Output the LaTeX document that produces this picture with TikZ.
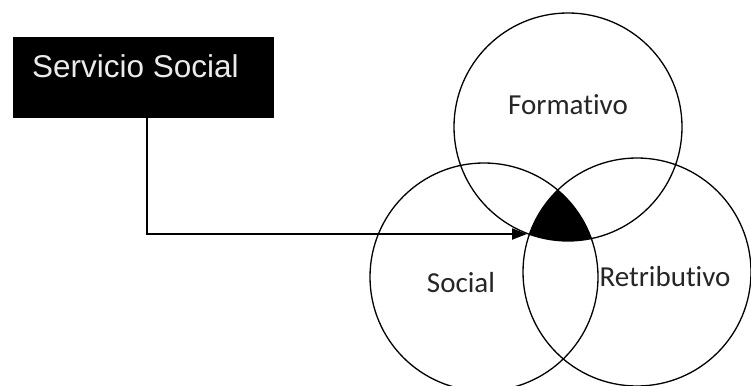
\documentclass[tikz,border=0pt]{standalone}
\usepackage{fontspec}
\setmainfont{Carlito}[Ligatures=NoCommon]
\newfontfamily\arialfont{Liberation Sans}
\usetikzlibrary{arrows.meta}
\tikzset{
  ring/.style={circle, draw=black, line width=1.3pt, minimum size=228pt, inner sep=0pt},
  ringlabel/.style={font=\fontsize{29}{31}\selectfont, text=black!85, inner sep=0pt},
  headbox/.style={rectangle, fill=black, draw=black, minimum width=260pt, minimum height=80pt, inner sep=0pt},
  headtext/.style={font=\arialfont\fontsize{31.5}{33}\selectfont, text=white!92!black, inner sep=0pt},
  conn/.style={draw=black, line width=2pt, -{Triangle[length=15pt,width=11pt]}}
}
\begin{document}
\begin{tikzpicture}[x=1pt,y=-1pt]
\useasboundingbox[fill=white] (0,0) rectangle (751,385);
% black triple intersection
\begin{scope}
  \clip (568,127) circle[radius=114pt];
  \clip (484,277) circle[radius=114pt];
  \fill[black] (637,272) circle[radius=114pt];
\end{scope}
\node[ring] (F) at (568,127) {};
\node[ring] (S) at (484,277) {};
\node[ring] (R) at (637,272) {};
\node[ringlabel] (Fl) at (568,105) {Formativo};
\node[ringlabel] (Sl) at (461,283) {Social};
\node[ringlabel] (Rl) at (665,277) {Retributivo};
\node[headbox] (box) at (143,77) {};
\node[headtext, anchor=west] (boxt) at (32,66) {Servicio Social};
\coordinate (tip) at (527,234);
\draw[conn] ([xshift=4pt]box.south) |- (tip);
\end{tikzpicture}
\end{document}
